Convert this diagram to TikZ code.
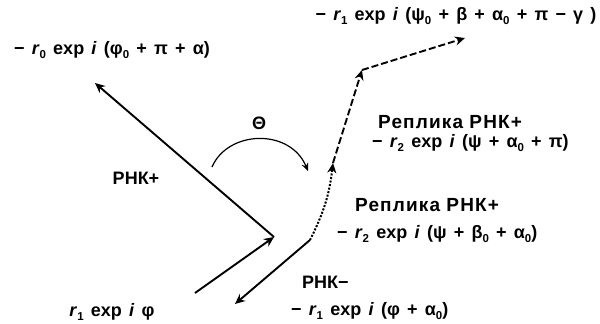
\documentclass[tikz,border=0pt]{standalone}
\usepackage{fontspec}
\setmainfont{Liberation Sans}
\usetikzlibrary{arrows.meta}
\newcommand\idx[1]{\raisebox{-0.45ex}{\fontsize{11.5}{11.5}\selectfont #1}}
\newcommand\widesp{\spaceskip 0.4em\relax}
\tikzset{
  vec/.style={line width=1.9pt, -{Stealth[length=10pt,width=9pt]}},
  arc/.style={line width=1.2pt, -{Stealth[length=8pt,width=7pt]}},
  lbl/.style={font=\fontsize{18}{20}\selectfont\bfseries\widesp, inner sep=0pt},
  replbl/.style={font=\fontsize{19}{21}\selectfont\bfseries\addfontfeature{LetterSpace=6}, inner sep=0pt, anchor=west},
}
\begin{document}
\begin{tikzpicture}[x=1pt,y=-1pt]
\useasboundingbox (0,0) rectangle (600,324);
\coordinate (rnaV) at (274,237);
\coordinate (rOneTail) at (195,293);
\coordinate (rnaPlusTip) at (95,83);
\coordinate (rnaMinusTail) at (310,240);
\coordinate (rnaMinusTip) at (235,304);
\coordinate (repOne) at (333,163);
\coordinate (repTwo) at (362,70);
\coordinate (repTop) at (465,38);
\coordinate (thStart) at (212,167);
\coordinate (thEnd) at (308,171);
\draw[vec] (rOneTail) -- (rnaV);
\draw[vec] (rnaV) -- (rnaPlusTip);
\draw[vec] (rnaMinusTail) -- (rnaMinusTip);
\draw[vec, line width=2pt, dash pattern=on 2pt off 1.6pt] (rnaMinusTail) to[bend right=10] (repOne);
\draw[vec, dash pattern=on 7pt off 3pt] (repOne) -- (repTwo);
\draw[vec, dash pattern=on 7pt off 3pt] (repTwo) -- (repTop);
\draw[arc] (thStart) .. controls (228,130) and (290,128) .. (thEnd);
\node[lbl] (theta) at (259,123) {Θ};
\node[lbl] (lblRzero) at (112,50) {− \textit{r}\idx{0} exp \textit{i} (φ\idx{0} + π + α)};
\node[lbl] (lblTop) at (456,16) {− \textit{r}\idx{1} exp \textit{i} (ψ\idx{0} + β + α\idx{0} + π − γ )};
\node[replbl] (lblRepA) at (378,122) {Реплика РНК+};
\node[lbl, anchor=west] (lblRepAf) at (372,143) {− \textit{r}\idx{2} exp \textit{i} (ψ + α\idx{0} + π)};
\node[replbl] (lblRepB) at (355,205) {Реплика РНК+};
\node[lbl, anchor=west] (lblRepBf) at (337,234) {− \textit{r}\idx{2} exp \textit{i} (ψ + β\idx{0} + α\idx{0})};
\node[lbl, anchor=west] (lblMinus) at (302,282) {РНК−};
\node[lbl, anchor=west] (lblMinusf) at (291,311) {− \textit{r}\idx{1} exp \textit{i} (φ + α\idx{0})};
\node[lbl] (lblPlus) at (136,178) {РНК+};
\node[lbl] (lblRone) at (112,312) {\textit{r}\idx{1} exp \textit{i} φ};
\end{tikzpicture}
\end{document}
